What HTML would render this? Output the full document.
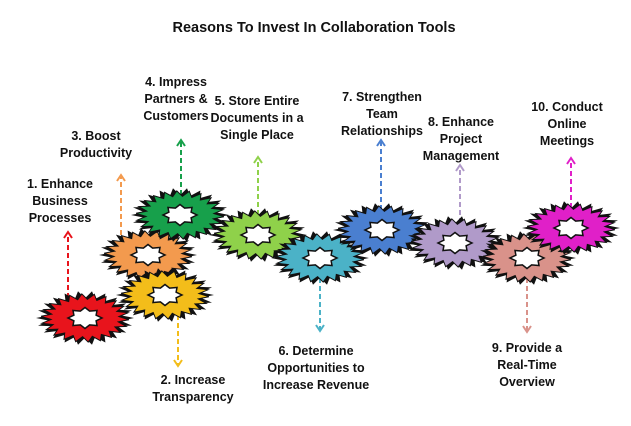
<!DOCTYPE html>
<html><head><meta charset="utf-8">
<style>
html,body{margin:0;padding:0;background:#fff;width:631px;height:426px;overflow:hidden}
svg text{font-family:"Liberation Sans",sans-serif;font-weight:bold;fill:#111}
</style></head><body>
<svg id="chart" width="631" height="426" viewBox="0 0 631 426" xmlns="http://www.w3.org/2000/svg">
<text x="314" y="32" text-anchor="middle" font-size="14.5">Reasons To Invest In Collaboration Tools</text>
</svg>
<script>
const labels=[["1. Enhance","Business","Processes"],["2. Increase","Transparency"],["3. Boost","Productivity"],["4. Impress","Partners &","Customers"],["5. Store Entire","Documents in a","Single Place"],["6. Determine","Opportunities to","Increase Revenue"],["7. Strengthen","Team","Relationships"],["8. Enhance","Project","Management"],["9. Provide a","Real-Time","Overview"],["10. Conduct","Online","Meetings"]];
const colors=["#e8141c","#f3bd1a","#f39a4e","#17a04b","#8fd14a","#4bb2c7","#4a7fd0","#b09ac9","#d9928a","#e020c8"];
const cx=[85,165,148,180,258,320,382,455,527,571];
const cy=[318,295,255,215,235,258,230,243,258,228];
const arrowEnd=[232,366,175,140,157,331,140,165,332,158];
const ns="http://www.w3.org/2000/svg";
const svg=document.getElementById('chart');
function mk(t,a){const e=document.createElementNS(ns,t);for(const k in a)e.setAttribute(k,a[k]);return e;}
function star(x,y,n,ro,ri,sy,rot){let p=[];for(let i=0;i<2*n;i++){const a=Math.PI*i/n+(rot||0);const r=i%2?ri:ro;p.push((x+r*Math.cos(a)).toFixed(1)+","+(y+r*Math.sin(a)*sy).toFixed(1));}return p.join(" ");}
const order=[0,2,1,3,4,5,6,7,8,9];
for(let i=0;i<10;i++){
  const up=arrowEnd[i]<cy[i];
  const ax=[68,178,121,181,258,320,381,460,527,571][i];
  const start=up?cy[i]-12:cy[i]+12;
  const g=mk('g',{});
  
  
  g.appendChild(mk('line',{x1:ax,y1:start,x2:ax,y2:arrowEnd[i]+(up?2:-2),stroke:colors[i],'stroke-width':2,'stroke-dasharray':'5,3'}));
  const e=arrowEnd[i],d=up?6:-6;
  g.appendChild(mk('polyline',{points:`${ax-4},${e+d} ${ax},${e} ${ax+4},${e+d}`,fill:'none',stroke:colors[i],'stroke-width':2}));
  svg.appendChild(g);
}
for(const i of order){
  const g=mk('g',{});
  
  
  g.appendChild(mk('polygon',{points:star(cx[i],cy[i],22,49,36,0.55,0),fill:'#111'}));
  g.appendChild(mk('polygon',{points:star(cx[i],cy[i],22,44,34,0.55,0.07),fill:colors[i],stroke:'#111','stroke-width':1}));
  g.appendChild(mk('polygon',{points:star(cx[i],cy[i],8,17,12,0.62,0),fill:'#fff',stroke:'#111','stroke-width':1.5}));
  svg.appendChild(g);
}
const lx=[60,193,96,176,257,316,382,461,527,567];
const ly=[188,384,140,86,105,355,101,126,352,111];
for(let i=0;i<10;i++){
  const t=mk('text',{x:lx[i],y:ly[i],'text-anchor':'middle','font-size':12.5});
  
  
  labels[i].forEach((s,j)=>{const ts=mk('tspan',{x:lx[i],dy:j?17:0});ts.textContent=s;t.appendChild(ts);});
  svg.appendChild(t);
}
</script>
</body></html>
